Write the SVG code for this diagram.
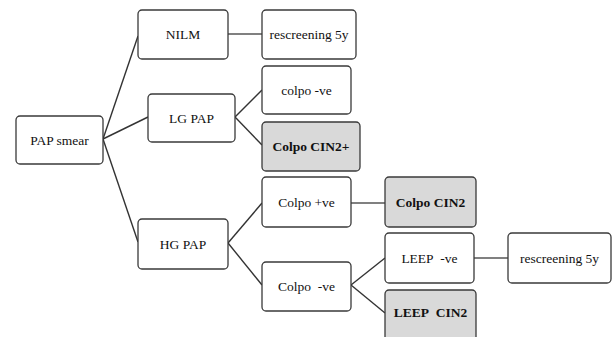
<svg xmlns="http://www.w3.org/2000/svg" width="613" height="337" viewBox="0 0 613 337">
<style>
.box{fill:#ffffff;stroke:#3a3a3a;stroke-width:1.3}
.hl{fill:#d9d9d9}
text{font-family:'Times New Roman',Times,'Liberation Serif','Noto Serif','DejaVu Serif',serif;font-size:13.5px;fill:#111;text-anchor:middle}
.b{font-weight:bold}
.d{stroke:#333;stroke-width:1.4;fill:none}
.h{stroke:#808080;stroke-width:2;fill:none}
</style>
<rect width="613" height="337" fill="#ffffff"/>
<g id="connectors">
<line class="d" x1="103" y1="139" x2="138" y2="36"/>
<line class="d" x1="103" y1="139" x2="148" y2="117"/>
<line class="d" x1="103" y1="139" x2="138" y2="242"/>
<line class="h" x1="228" y1="34" x2="262" y2="34"/>
<line class="d" x1="235" y1="117" x2="262" y2="90"/>
<line class="d" x1="235" y1="117" x2="262" y2="145"/>
<line class="d" x1="228" y1="243" x2="262" y2="203"/>
<line class="d" x1="228" y1="243" x2="262" y2="285"/>
<line class="h" x1="351" y1="203" x2="385" y2="203"/>
<line class="d" x1="351" y1="285" x2="385" y2="258"/>
<line class="d" x1="351" y1="285" x2="385" y2="313"/>
<line class="h" x1="474" y1="258" x2="508" y2="258"/>
</g>
<g id="pap-smear"><rect class="box" x="16" y="116" width="87" height="48" rx="4"/><text x="59.5" y="144.5">PAP smear</text></g>
<g id="nilm"><rect class="box" x="138" y="10" width="90" height="49" rx="4"/><text x="183" y="39">NILM</text></g>
<g id="rescreening-1"><rect class="box" x="262" y="10" width="94" height="49" rx="4"/><text x="309" y="39">rescreening 5y</text></g>
<g id="lg-pap"><rect class="box" x="148" y="94" width="87" height="48" rx="4"/><text x="191.5" y="122.5">LG PAP</text></g>
<g id="colpo-neg-1"><rect class="box" x="262" y="66" width="89" height="48" rx="4"/><text x="306.5" y="94.5">colpo -ve</text></g>
<g id="colpo-cin2plus"><rect class="box hl" x="262" y="122" width="98" height="49" rx="4"/><text class="b" x="311" y="151">Colpo CIN2+</text></g>
<g id="hg-pap"><rect class="box" x="138" y="219" width="90" height="50" rx="4"/><text x="183" y="248.5">HG PAP</text></g>
<g id="colpo-pos"><rect class="box" x="262" y="177" width="89" height="50" rx="4"/><text x="306.5" y="206.5">Colpo +ve</text></g>
<g id="colpo-cin2"><rect class="box hl" x="385" y="177" width="91" height="50" rx="4"/><text class="b" x="430.5" y="206.5">Colpo CIN2</text></g>
<g id="colpo-neg-2"><rect class="box" x="262" y="262" width="89" height="49" rx="4"/><text x="306.5" y="291">Colpo&#160; -ve</text></g>
<g id="leep-neg"><rect class="box" x="385" y="233" width="89" height="50" rx="4"/><text x="429.5" y="262.5">LEEP&#160; -ve</text></g>
<g id="rescreening-2"><rect class="box" x="508" y="233" width="103" height="50" rx="4"/><text x="559.5" y="262.5">rescreening 5y</text></g>
<g id="leep-cin2"><rect class="box hl" x="385" y="290" width="91" height="52" rx="4"/><text class="b" x="430.5" y="316.5">LEEP&#160; CIN2</text></g>
</svg>
